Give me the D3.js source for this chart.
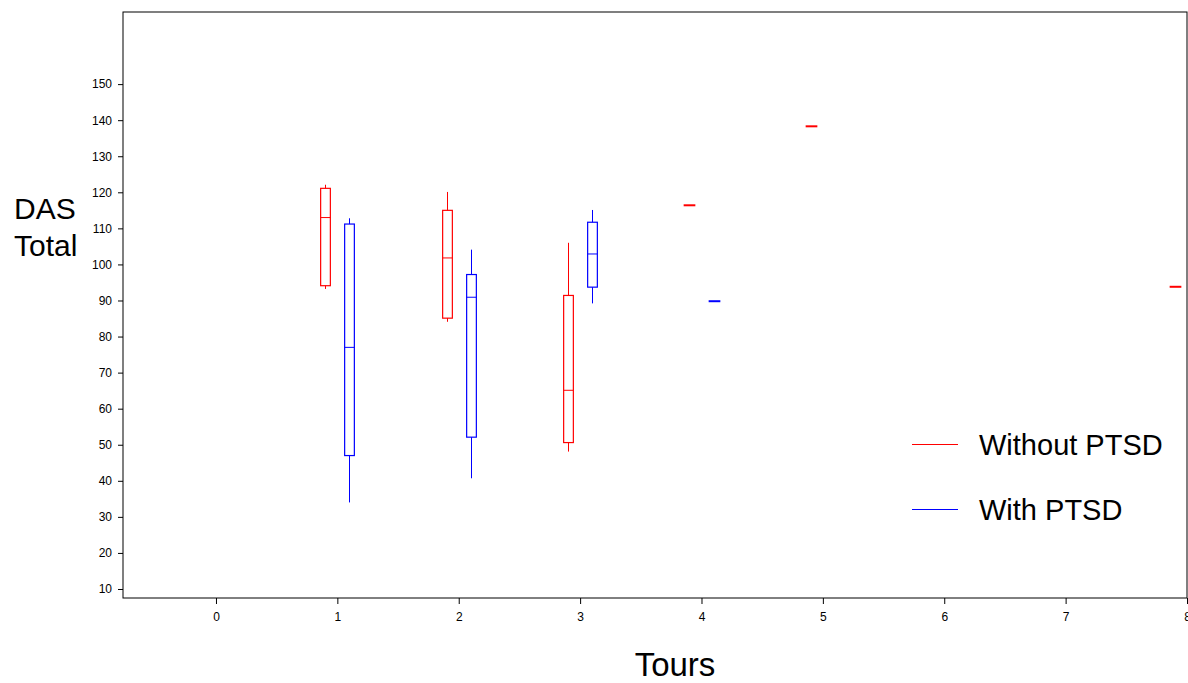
<!DOCTYPE html>
<html>
<head>
<meta charset="utf-8">
<script src="https://cdn.jsdelivr.net/npm/d3@7"></script>
<style>
  body { margin: 0; background: #fff; }
  svg { display: block; font-family: Arial, "Liberation Sans", sans-serif; }
</style>
</head>
<body>
<svg id="chart" width="1188" height="683"></svg>
<script>
// box plot data (DAS Total by number of tours)
var xTicks = [0, 1, 2, 3, 4, 5, 6, 7, 8];
var yTicks = [10, 20, 30, 40, 50, 60, 70, 80, 90, 100, 110, 120, 130, 140, 150];

var withoutTours = [1, 2, 3, 4, 5, 8];
var withoutMin = [93.2, 84.1, 48.1, 116.4, 138.3, 93.8];
var withoutQ1 = [94.1, 85.1, 50.6, 116.4, 138.3, 93.8];
var withoutMedian = [113.0, 101.8, 65.1, 116.4, 138.3, 93.8];
var withoutQ3 = [121.1, 115.0, 91.4, 116.4, 138.3, 93.8];
var withoutMax = [122.1, 120.1, 106.0, 116.4, 138.3, 93.8];

var withTours = [1, 2, 3, 4];
var withMin = [34.0, 40.7, 89.2, 89.8];
var withQ1 = [47.0, 52.1, 93.7, 89.8];
var withMedian = [77.0, 90.9, 102.9, 89.8];
var withQ3 = [111.2, 97.2, 111.7, 89.8];
var withMax = [112.8, 104.1, 115.1, 89.8];

var seriesNames = ["Without PTSD", "With PTSD"];
var seriesColors = ["#ff0000", "#0000ff"];

// layout
var margin = { top: 12, right: 1, bottom: 85, left: 123 },
    width = 1188 - margin.left - margin.right,
    height = 683 - margin.top - margin.bottom;

var xScale = d3.scaleLinear().domain([-0.766, 8]).range([0, width]);
var yScale = d3.scaleLinear().domain([7.5, 170]).range([height, 0]);

var svg = d3.select("#chart")
    .append("g")
    .attr("transform", "translate(" + margin.left + "," + margin.top + ")");

// frame
svg.append("rect")
    .attr("width", width)
    .attr("height", height)
    .attr("fill", "none")
    .attr("stroke", "#000")
    .attr("stroke-width", 1);

var xAxis = d3.axisBottom(xScale).tickValues(xTicks).tickSize(6).tickSizeOuter(0).tickPadding(8);
var yAxis = d3.axisLeft(yScale).tickValues(yTicks).tickSize(5).tickSizeOuter(0).tickPadding(6);

var gx = svg.append("g")
    .attr("class", "x axis")
    .attr("transform", "translate(0," + height + ")")
    .call(xAxis);
var gy = svg.append("g")
    .attr("class", "y axis")
    .call(yAxis);

[gx, gy].forEach(function (g) {
    g.select(".domain").remove();
    g.selectAll("text").attr("font-size", 12).attr("fill", "#000")
        .attr("font-family", "Arial, 'Liberation Sans', sans-serif");
    g.selectAll("line").attr("stroke", "#000");
});

// build box records from the arrays
function makeBoxes(tours, mins, q1s, meds, q3s, maxs, offset, color) {
    return tours.map(function (t, i) {
        return { tour: t, pos: t + offset, min: mins[i], q1: q1s[i], med: meds[i], q3: q3s[i], max: maxs[i], color: color };
    });
}
var boxes = makeBoxes(withoutTours, withoutMin, withoutQ1, withoutMedian, withoutQ3, withoutMax, -0.1, seriesColors[0])
    .concat(makeBoxes(withTours, withMin, withQ1, withMedian, withQ3, withMax, 0.1, seriesColors[1]));

var boxW = xScale(0.08) - xScale(0);

var g = svg.selectAll(".box")
    .data(boxes)
    .enter()
    .append("g")
    .attr("class", "box");

g.each(function (d) {
    var sel = d3.select(this);
    var cx = Math.round(xScale(d.pos)) + 0.5;
    if (d.q1 === d.q3) {
        // single observation: short thick line
        sel.append("line")
            .attr("x1", cx - boxW / 2 - 1).attr("x2", cx + boxW / 2 + 1)
            .attr("y1", yScale(d.med)).attr("y2", yScale(d.med))
            .attr("stroke", d.color).attr("stroke-width", 2);
        return;
    }
    sel.append("line")
        .attr("x1", cx).attr("x2", cx)
        .attr("y1", yScale(d.max)).attr("y2", yScale(d.q3))
        .attr("stroke", d.color);
    sel.append("line")
        .attr("x1", cx).attr("x2", cx)
        .attr("y1", yScale(d.q1)).attr("y2", yScale(d.min))
        .attr("stroke", d.color);
    sel.append("rect")
        .attr("x", cx - boxW / 2)
        .attr("y", yScale(d.q3))
        .attr("width", boxW)
        .attr("height", yScale(d.q1) - yScale(d.q3))
        .attr("fill", "none")
        .attr("stroke", d.color)
        .attr("stroke-width", 1.2);
    sel.append("line")
        .attr("x1", cx - boxW / 2).attr("x2", cx + boxW / 2)
        .attr("y1", yScale(d.med)).attr("y2", yScale(d.med))
        .attr("stroke", d.color);
});

// axis titles
var title = d3.select("#chart").append("g").attr("font-size", 30).attr("fill", "#000");
title.append("text").attr("x", 14).attr("y", 219).text("DAS");
title.append("text").attr("x", 14).attr("y", 256).text("Total");
title.append("text").attr("x", 675).attr("y", 676).attr("font-size", 33)
    .attr("text-anchor", "middle").text("Tours");

// legend
var legend = d3.select("#chart").append("g")
    .selectAll("g")
    .data(seriesNames)
    .enter()
    .append("g")
    .attr("transform", function (d, i) { return "translate(912," + (444.5 + i * 65) + ")"; });
legend.append("line")
    .attr("x1", 0).attr("x2", 46)
    .attr("stroke", function (d, i) { return seriesColors[i]; });
legend.append("text")
    .attr("x", 67).attr("dy", "0.35em")
    .attr("font-size", 29)
    .text(function (d) { return d; });
</script>
</body>
</html>
